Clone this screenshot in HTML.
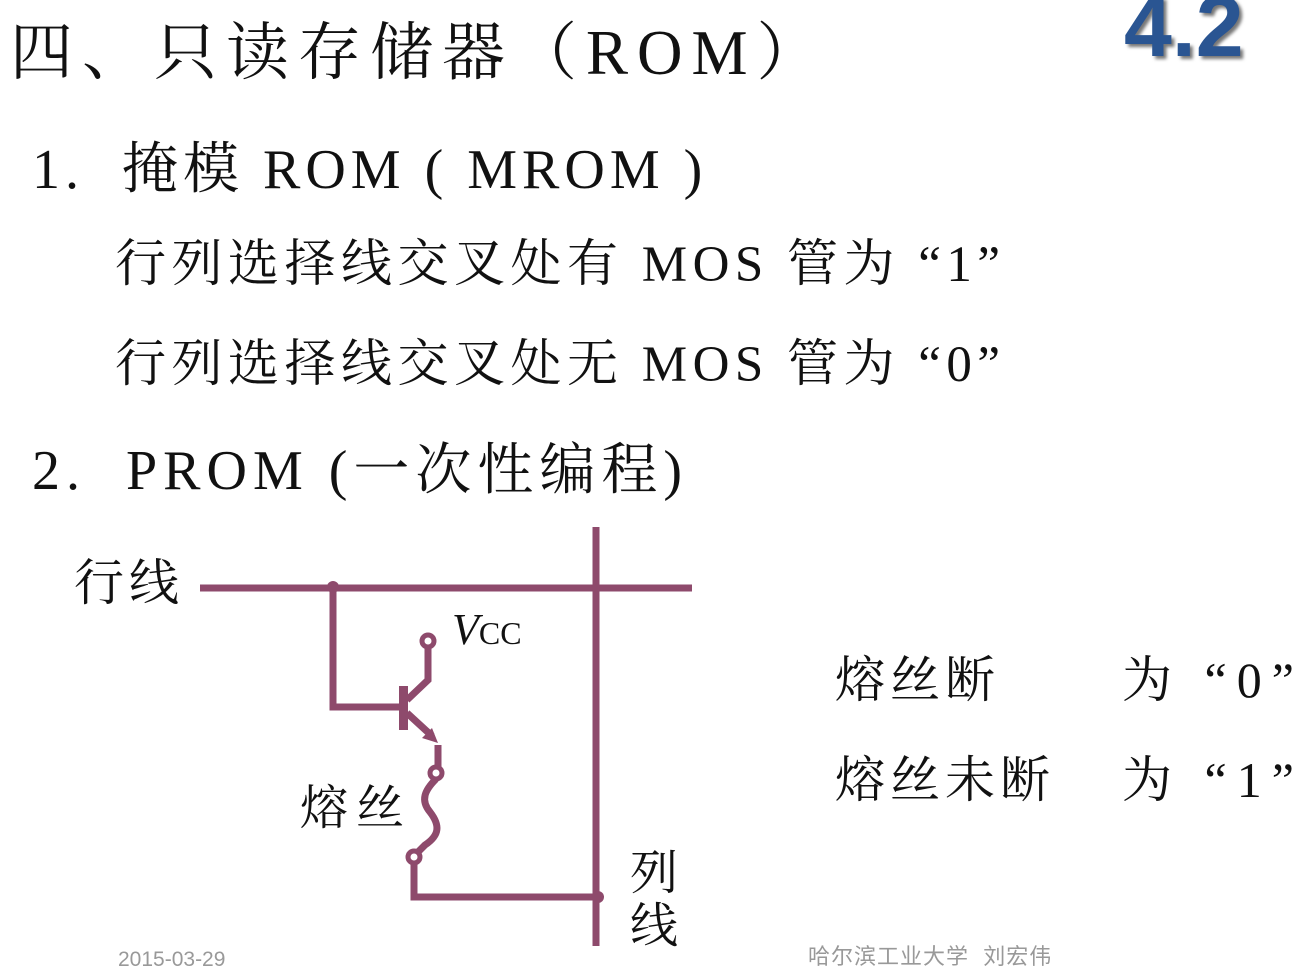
<!DOCTYPE html>
<html><head><meta charset="utf-8"><style>
html,body{margin:0;padding:0;background:#fff;}
body{width:1306px;height:970px;position:relative;overflow:hidden;font-family:"Liberation Serif","Noto Serif CJK SC","Noto Sans CJK SC",serif;color:#111;}
.t{position:absolute;white-space:nowrap;line-height:1;}
</style></head><body>
<div class="t" style="left:10px;top:22px;font-size:63px;letter-spacing:9px;">四、只读存储器（ROM）</div>
<div class="t" style="left:1124px;top:-16px;font-size:86px;font-weight:bold;color:#2a5592;font-family:'Liberation Sans',sans-serif;text-shadow:3px 3px 3px #777;">4.2</div>
<div class="t" style="left:32px;top:142px;font-size:56px;letter-spacing:5px;">1.&nbsp; 掩模 ROM ( MROM )</div>
<div class="t" style="left:115px;top:240px;font-size:51px;letter-spacing:5.5px;">行列选择线交叉处有 MOS 管为 “1”</div>
<div class="t" style="left:115px;top:340px;font-size:51px;letter-spacing:5.5px;">行列选择线交叉处无 MOS 管为 “0”</div>
<div class="t" style="left:32px;top:443px;font-size:56px;letter-spacing:6px;">2.&nbsp; PROM (一次性编程)</div>
<div class="t" style="left:74px;top:558px;font-size:50px;letter-spacing:5px;">行线</div>
<div class="t" style="left:300px;top:785px;font-size:48px;letter-spacing:8px;">熔丝</div>
<div class="t" style="left:630px;top:848px;font-size:48px;line-height:1.1;">列<br>线</div>
<div class="t" style="left:452px;top:608px;font-size:44px;font-style:italic;">V<span style="font-style:normal;font-size:32px;">CC</span></div>
<div class="t" style="left:835px;top:655px;font-size:50px;letter-spacing:5px;">熔丝断</div>
<div class="t" style="left:1122px;top:655px;font-size:50px;letter-spacing:10px;">为 “0”</div>
<div class="t" style="left:835px;top:755px;font-size:50px;letter-spacing:5px;">熔丝未断</div>
<div class="t" style="left:1122px;top:755px;font-size:50px;letter-spacing:10px;">为 “1”</div>
<div class="t" style="left:118px;top:949px;font-size:21px;color:#999;font-family:'Liberation Sans',sans-serif;">2015-03-29</div>
<div class="t" style="left:808px;top:946px;font-size:22px;letter-spacing:1px;color:#999;font-family:'Liberation Sans','Noto Sans CJK SC',sans-serif;">哈尔滨工业大学&nbsp; 刘宏伟</div>
<svg width="1306" height="970" style="position:absolute;left:0;top:0" fill="none" stroke="#8e4a6c" stroke-width="7">
<line x1="200" y1="588" x2="692" y2="588"/>
<line x1="596" y1="527" x2="596" y2="946"/>
<circle cx="333" cy="587" r="6" fill="#8e4a6c" stroke="none"/>
<polyline points="333,588 333,707 403,707"/>
<rect x="399" y="686" width="9" height="44" fill="#8e4a6c" stroke="none"/>
<polyline points="407,700 428,680 428,645"/>
<circle cx="428" cy="641" r="6" stroke-width="5" fill="#fff"/>
<line x1="407" y1="713" x2="432" y2="736"/>
<polygon points="438,743 422,738 432,728" fill="#8e4a6c" stroke="none"/>
<line x1="438" y1="745" x2="438" y2="770"/>
<circle cx="436" cy="773" r="6" stroke-width="5" fill="#fff"/>
<path d="M436,779 C425,790 420,800 430,812 C440,825 440,835 425,845 L418,852"/>
<circle cx="414" cy="857" r="6" stroke-width="5" fill="#fff"/>
<polyline points="414,863 414,897 596,897"/>
<circle cx="598" cy="897" r="6" fill="#8e4a6c" stroke="none"/>
</svg>
</body></html>
